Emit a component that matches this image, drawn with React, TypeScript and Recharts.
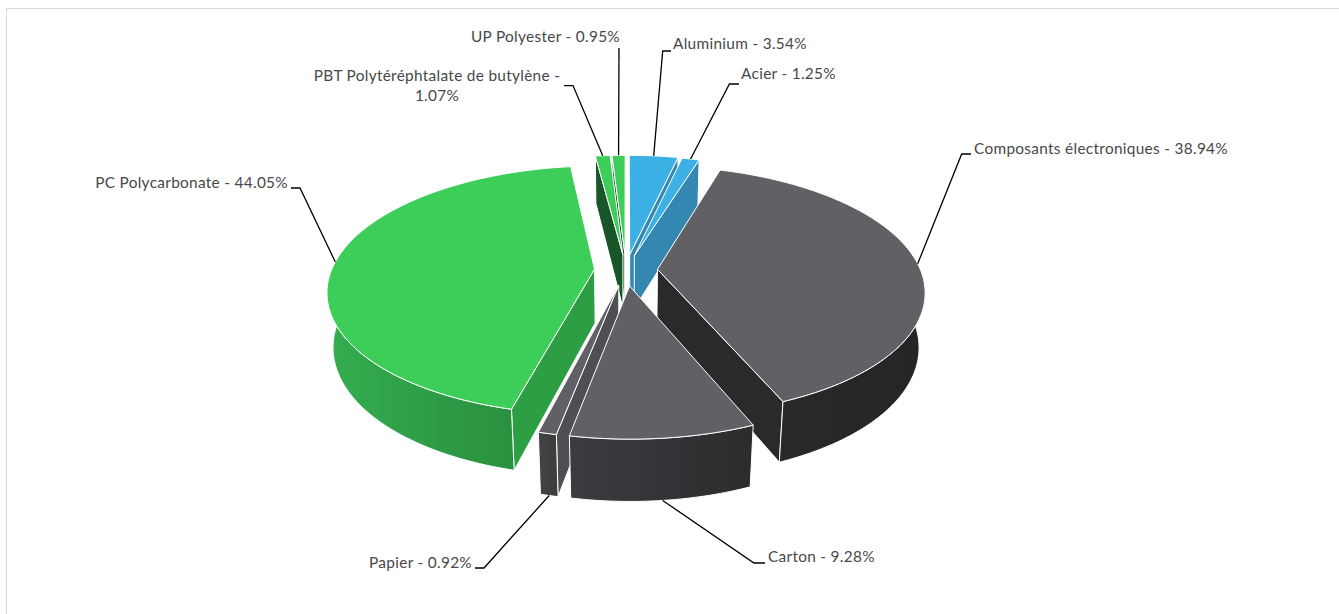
import { PieChart, Pie } from 'recharts';

const CATEGORIES = [
  'Aluminium',
  'Acier',
  'Composants électroniques',
  'Carton',
  'Papier',
  'PC Polycarbonate',
  'PBT Polytéréphtalate de butylène',
  'UP Polyester',
];
const VALUES = [3.54, 1.25, 38.94, 9.28, 0.92, 44.05, 1.07, 0.95];

const datos = CATEGORIES.map((name, i) => ({ name, value: VALUES[i] }));

// painter order, back to front
const DRAW_ORDER = [7, 6, 0, 1, 5, 2, 4, 3];

// how far each slice is pulled out (fraction of the radius)
const EXPLODE = [0.13, 0.125, 0.12, 0.13, 0.125, 0.12, 0.13, 0.13];

const TOP_COLORS = ['#3db1e5', '#3db1e5', '#606065', '#606065', '#606065', '#3dce5a', '#3dce5a', '#3dce5a'];
const SIDE_COLORS = ['#3387b0', '#3387b0', '#2a2a2c', '#4f4f53', '#4f4f53', '#2e9e45', '#18562a', '#18562a'];
const WALL_STOPS = [
  ['#3387b0', '#3387b0'],
  ['#3387b0', '#3387b0'],
  ['#2a2a2c', '#252527'],
  ['#3c3c40', '#2c2c2f'],
  ['#434346', '#3d3d40'],
  ['#33ad4f', '#27873a'],
  ['#18562a', '#18562a'],
  ['#18562a', '#18562a'],
];

// label placement: text anchor point, then the elbow and the end of the leader line
const LABEL_LAYOUT = [
  { x: 673, y: 43, anchor: 'start', elbow: [662.7, 51], end: [671, 51], low: false },
  { x: 741, y: 73, anchor: 'start', elbow: [729.4, 84], end: [739, 84], low: false },
  { x: 974, y: 147.5, anchor: 'start', elbow: [961.7, 154], end: [971, 154], low: false },
  { x: 768, y: 556, anchor: 'start', elbow: [754, 563], end: [765, 563], low: true },
  { x: 472, y: 562, anchor: 'end', elbow: [484, 568], end: [475, 568], low: true },
  { x: 288, y: 182, anchor: 'end', elbow: [300, 188], end: [291, 188], low: false },
  { x: 437, y: 75, anchor: 'middle', elbow: [573, 85.6], end: [564, 85.6], low: false },
  { x: 620, y: 36, anchor: 'end', elbow: [619, 48], end: [619, 48], low: false },
];

const KY = 121 / 263; // flattening of the disc
const PERSP = 0.17;
const DEPTH_W = 0.02;
const DEPTH = 55;

const RAD = Math.PI / 180;

function project(cx: number, cy: number, r: number, u: number, v: number, low: boolean) {
  const w = 1 - PERSP * v + (low ? DEPTH_W : 0);
  return [cx + (r * u) / w, cy + (r * KY * v + (low ? DEPTH : 0)) / w];
}

function toPath(pts: number[][]) {
  return 'M' + pts.map((p) => `${p[0].toFixed(2)},${p[1].toFixed(2)}`).join('L') + 'Z';
}

// a cut face only shows when "down" on the screen points away from the slice
function wallVisible(apex: number[], corner: number[], other: number[]) {
  const ex = corner[0] - apex[0];
  const ey = corner[1] - apex[1];
  const down = ex * 1;
  const inside = ex * (other[1] - apex[1]) - ey * (other[0] - apex[0]);
  return down * inside < 0;
}

function Slice3D(props: any, only: number) {
  const { cx, cy, outerRadius: r, startAngle, endAngle, midAngle } = props;
  const i = CATEGORIES.indexOf(props.payload?.name ?? props.name);
  if (i !== only) return <g />;

  const m = (midAngle ?? (startAngle + endAngle) / 2) * RAD;
  const du = EXPLODE[i] * Math.cos(m);
  const dv = -EXPLODE[i] * Math.sin(m);

  const steps = Math.max(2, Math.ceil(Math.abs(startAngle - endAngle)));
  const uv: number[][] = [];
  const facing: number[][] = [];
  for (let s = 0; s <= steps; s++) {
    const a = (startAngle + ((endAngle - startAngle) * s) / steps) * RAD;
    const pt = [du + Math.cos(a), dv - Math.sin(a)];
    uv.push(pt);
    if (-Math.sin(a) >= -0.12) facing.push(pt);
  }
  const top = uv.map((p) => project(cx, cy, r, p[0], p[1], false));
  const bottom = uv.map((p) => project(cx, cy, r, p[0], p[1], true));
  const apexT = project(cx, cy, r, du, dv, false);
  const apexB = project(cx, cy, r, du, dv, true);

  const xs = top.map((p) => p[0]);
  const gid = `wall-${i}`;
  const wallTop = facing.map((p) => project(cx, cy, r, p[0], p[1], false));
  const wallBottom = facing.map((p) => project(cx, cy, r, p[0], p[1], true));
  return (
    <g>
      <defs>
        <linearGradient id={gid} gradientUnits="userSpaceOnUse" x1={Math.min(...xs)} x2={Math.max(...xs)} y1={0} y2={0}>
          <stop offset="0" stopColor={WALL_STOPS[i][0]} />
          <stop offset="1" stopColor={WALL_STOPS[i][1]} />
        </linearGradient>
      </defs>
      {wallVisible(apexT, top[0], top[steps]) && (
        <path d={toPath([apexT, top[0], bottom[0], apexB])} fill={SIDE_COLORS[i]} stroke="#fff" strokeWidth={1} />
      )}
      {wallVisible(apexT, top[steps], top[0]) && (
        <path d={toPath([apexT, top[steps], bottom[steps], apexB])} fill={SIDE_COLORS[i]} stroke="#fff" strokeWidth={1} />
      )}
      {facing.length > 1 && (
        <path d={toPath([...wallTop, ...[...wallBottom].reverse()])} fill={`url(#${gid})`} stroke="#fff" strokeWidth={1} />
      )}
      <path d={toPath([apexT, ...top])} fill={TOP_COLORS[i]} stroke="#fff" strokeWidth={1} />
    </g>
  );
}

function renderLabel(props: any) {
  const { cx, cy, outerRadius: r, midAngle } = props;
  const name = props.payload?.name ?? props.name;
  const i = CATEGORIES.indexOf(name);
  const l = LABEL_LAYOUT[i];
  const m = midAngle * RAD;
  const k = 1 + EXPLODE[i];
  const p = project(cx, cy, r, k * Math.cos(m), -k * Math.sin(m), l.low);
  const pct = `${VALUES[i].toFixed(2)}%`;
  const textProps = {
    fontFamily: 'Lato, sans-serif',
    fontSize: 15.4,
    letterSpacing: 0.3,
    fill: '#484848',
    textAnchor: l.anchor as any,
    dominantBaseline: 'central' as any,
  };
  return (
    <g key={name}>
      <polyline
        points={`${p[0]},${p[1]} ${l.elbow[0]},${l.elbow[1]} ${l.end[0]},${l.end[1]}`}
        fill="none"
        stroke="#000"
        strokeWidth={1.3}
      />
      {i === 6 ? (
        <text {...textProps} x={l.x} y={l.y}>
          <tspan x={l.x} y={l.y}>{`${name} -`}</tspan>
          <tspan x={l.x} y={l.y + 20}>{pct}</tspan>
        </text>
      ) : (
        <text {...textProps} x={l.x} y={l.y}>{`${name} - ${pct}`}</text>
      )}
    </g>
  );
}

export default function App() {
  return (
    <div style={{ position: 'absolute', left: 0, top: 0, width: 1339, height: 614, overflow: 'hidden', background: '#fff' }}>
      <div style={{ position: 'absolute', left: 6, top: 8, width: 1340, height: 620, border: '1px solid #d9d9d9' }} />
      <div style={{ position: 'absolute', left: 0, top: 0 }}>
        <PieChart width={1339} height={614} margin={{ top: 0, right: 0, bottom: 0, left: 0 }}>
          {DRAW_ORDER.map((idx, n) => (
            <Pie
              key={idx}
              data={datos}
              dataKey="value"
              nameKey="name"
              cx={626}
              cy={270}
              outerRadius={263}
              startAngle={90}
              endAngle={-270}
              isAnimationActive={false}
              labelLine={false}
              label={n === DRAW_ORDER.length - 1 ? renderLabel : false}
              shape={(p: any) => Slice3D(p, idx)}
            />
          ))}
        </PieChart>
      </div>
    </div>
  );
}
